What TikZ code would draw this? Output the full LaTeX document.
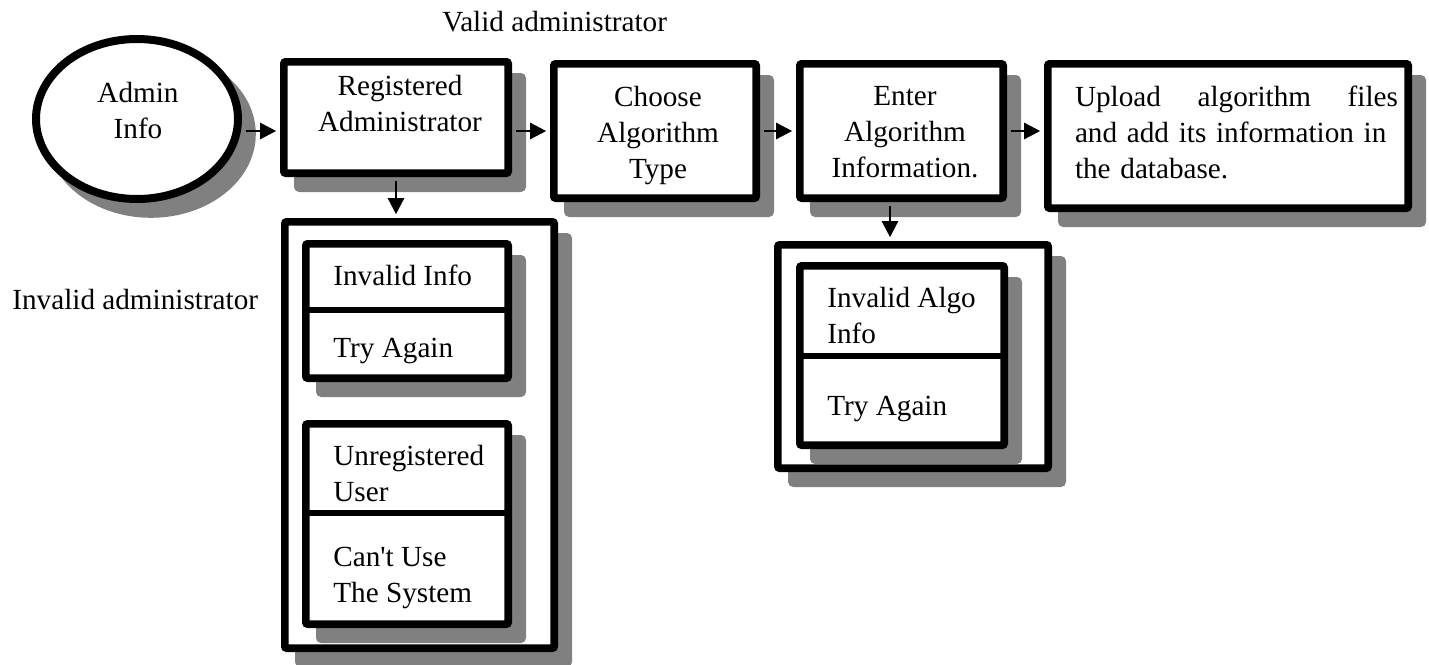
\documentclass[tikz,border=0pt]{standalone}
\usepackage{fontspec}
\setmainfont{Liberation Serif}
\usepackage{tikz}
\usetikzlibrary{arrows.meta,positioning,calc,shapes.geometric,shadows}

\begin{document}
\begin{tikzpicture}[x=0.5pt, y=-0.5pt,
  every node/.style={font=\fontsize{14.6}{18}\selectfont},
  frame/.style={draw, line width=3.8pt, fill=white, rounded corners=1pt, inner sep=0pt,
    drop shadow={shadow xshift=7pt, shadow yshift=-7.5pt, opacity=1, fill=black!50, draw=black!50, line width=3.8pt}},
  txt/.style={inner sep=0pt, align=center},
  ltxt/.style={inner sep=0pt, align=left, anchor=north west},
  btxt/.style={inner sep=0pt, anchor=base west},
  divider/.style={line width=3pt},
  flow/.style={line width=1.2pt, -{Triangle[length=8pt,width=8pt]}, shorten <=1.9pt, shorten >=1.9pt}]
  \useasboundingbox (0,0) rectangle (1429,664);

  \node[frame, ellipse, line width=4pt, minimum width=101pt, minimum height=80pt] (admin) at (137,119) {};
  \node[frame, minimum width=112.2pt, minimum height=55.7pt] (reg) at (396,117.5) {};
  \node[frame, minimum width=101.2pt, minimum height=67.2pt] (choose) at (655,131) {};
  \node[frame, minimum width=101.7pt, minimum height=67.2pt] (enter) at (901.5,131) {};
  \node[frame, minimum width=180.2pt, minimum height=72.2pt] (upload) at (1228,136) {};

  \node[frame, minimum width=134.7pt, minimum height=213.2pt] (invA) at (419.5,435) {};
  \node[frame, minimum width=101.2pt, minimum height=67.2pt] (badinfo) at (407,311) {};
  \node[frame, minimum width=101.2pt, minimum height=100.2pt] (unreg) at (407,524) {};
  \node[frame, minimum width=135.2pt, minimum height=111.7pt] (invB) at (913,356.5) {};
  \node[frame, minimum width=102.2pt, minimum height=89.7pt] (badalgo) at (902,355.5) {};

  \draw[divider] ($(badinfo.north west)!0.493!(badinfo.south west)$) -- ($(badinfo.north east)!0.493!(badinfo.south east)$);
  \draw[divider] ($(unreg.north west)!0.445!(unreg.south west)$) -- ($(unreg.north east)!0.445!(unreg.south east)$);
  \draw[divider] ($(badalgo.north west)!0.503!(badalgo.south west)$) -- ($(badalgo.north east)!0.503!(badalgo.south east)$);

  \node[txt] (adminT) at (138,111) {Admin\\Info};
  \node[txt] (regT) at (400,104) {Registered\\Administrator};
  \node[txt] (chooseT) at (658,135.5) {Choose\\Algorithm\\Type};
  \node[txt] (enterT) at (905,132.5) {Enter\\Algorithm\\Information.};
  \node[txt, text width=161.5pt, align=left] (uploadT) at (1236.5,132) {Upload\hfill algorithm\hfill files\\and add its information in\\the database.};

  \node[btxt] (validL) at (442,32) {Valid administrator};
  \node[btxt] (invalidL) at (12,309) {Invalid administrator};
  \node[btxt] (badinfoT) at (333,285) {Invalid Info};
  \node[btxt] (againT) at (333,357) {Try Again};
  \node[ltxt] (unregT) at (333,445) {Unregistered\\User};
  \node[ltxt] (cantT) at (333,547) {Can\textquotesingle t Use\\The System};
  \node[ltxt] (badalgoT) at (827,287) {Invalid Algo\\Info};
  \node[btxt] (againB) at (827,415) {Try Again};

  \draw[flow] (admin.east |- choose) -- (reg.west |- choose);
  \draw[flow] (reg.east |- choose) -- (choose.west);
  \draw[flow] (choose) -- (enter);
  \draw[flow] (enter.east) -- (upload.west |- enter.east);
  \draw[flow] (reg.south) -- (reg.south |- invA.north);
  \draw[flow] ([xshift=-5.75pt]enter.south) -- ([xshift=-5.75pt]enter.south |- invB.north);
\end{tikzpicture}
\end{document}
